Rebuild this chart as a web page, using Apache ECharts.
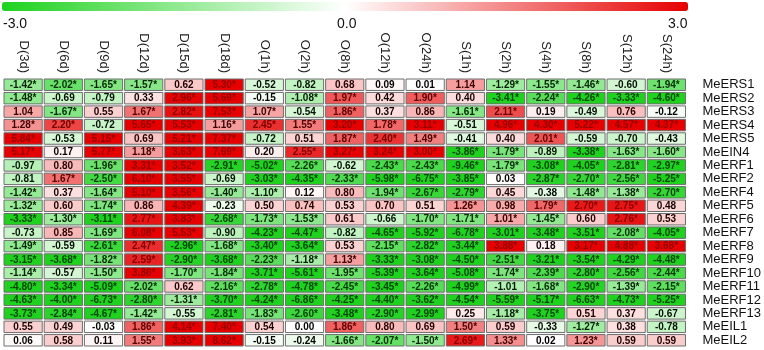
<!DOCTYPE html>
<html>
<head>
<meta charset="utf-8">
<script src="https://cdn.jsdelivr.net/npm/echarts@6/dist/echarts.min.js"></script>
<style>
    html, body { margin: 0; padding: 0; background: #fff; }
    #chart { width: 764px; height: 350px; }
</style>
</head>
<body>
<div id="chart"></div>
<script>
// ====================== 列 / 行 ======================
var columns = ['D(3d)', 'D(6d)', 'D(9d)', 'D(12d)', 'D(15d)', 'D(18d)',
    'O(1h)', 'O(2h)', 'O(8h)', 'O(12h)', 'O(24h)',
    'S(1h)', 'S(2h)', 'S(4h)', 'S(8h)', 'S(12h)', 'S(24h)'];
var genes = ['MeERS1', 'MeERS2', 'MeERS3', 'MeERS4', 'MeERS5', 'MeEIN4',
    'MeERF1', 'MeERF2', 'MeERF4', 'MeERF5', 'MeERF6', 'MeERF7', 'MeERF8',
    'MeERF9', 'MeERF10', 'MeERF11', 'MeERF12', 'MeERF13', 'MeEIL1', 'MeEIL2'];
var scaleTicks = ['-3.0', '0.0', '3.0'];

// ====================== 每行数据 (* = 显著) ======================
var meERS1 = ['-1.42*', '-2.02*', '-1.65*', '-1.57*', '0.62', '5.30*', '-0.52', '-0.82', '0.68', '0.09', '0.01', '1.14', '-1.29*', '-1.55*', '-1.46*', '-0.60', '-1.94*'];
var meERS2 = ['-1.48*', '-0.69', '-0.79', '0.33', '2.96*', '5.69*', '-0.15', '-1.08*', '1.97*', '0.42', '1.90*', '0.40', '-3.41*', '-2.24*', '-4.26*', '-3.33*', '-4.60*'];
var meERS3 = ['1.04', '-1.67*', '0.55', '1.67*', '2.82*', '7.53*', '1.07*', '-0.54', '1.86*', '0.37', '0.86', '-1.61*', '2.11*', '0.19', '-0.49', '0.76', '-0.12'];
var meERS4 = ['1.28*', '2.20*', '-0.72', '5.65*', '5.53*', '1.16*', '2.45*', '1.55*', '3.20*', '1.78*', '3.11*', '-0.51', '4.96*', '4.30*', '5.22*', '4.57*', '4.37*'];
var meERS5 = ['5.84*', '-0.53', '5.15*', '0.69', '5.21*', '7.37*', '-0.72', '0.51', '1.87*', '2.40*', '1.49*', '-0.41', '0.40', '2.01*', '-0.59', '-0.70', '-0.43'];
var meEIN4 = ['5.17*', '0.17', '5.77*', '1.18*', '3.63*', '7.69*', '0.20', '2.55*', '3.27*', '3.24*', '3.00*', '-3.86*', '-1.79*', '-0.89', '-3.38*', '-1.63*', '-1.60*'];
var meERF1 = ['-0.97', '0.80', '-1.96*', '3.31*', '3.52*', '-2.91*', '-5.02*', '-2.26*', '-0.62', '-2.43*', '-2.43*', '-9.46*', '-1.79*', '-3.08*', '-4.05*', '-2.81*', '-2.97*'];
var meERF2 = ['-0.81', '1.67*', '-2.50*', '6.10*', '3.55*', '-0.69', '-3.03*', '-4.35*', '-2.33*', '-5.98*', '-6.75*', '-3.85*', '0.03', '-2.87*', '-2.70*', '-2.56*', '-5.25*'];
var meERF4 = ['-1.42*', '0.37', '-1.64*', '5.10*', '3.56*', '-1.40*', '-1.10*', '0.12', '0.80', '-1.94*', '-2.67*', '-2.79*', '0.45', '-0.38', '-1.48*', '-1.38*', '-2.70*'];
var meERF5 = ['-1.32*', '0.60', '-1.74*', '0.86', '4.39*', '-0.23', '0.50', '0.74', '0.53', '0.70', '0.51', '1.26*', '0.98', '1.79*', '2.70*', '2.75*', '0.48'];
var meERF6 = ['-3.33*', '-1.30*', '-3.11*', '2.77*', '3.83*', '-2.68*', '-1.73*', '-1.53*', '0.61', '-0.66', '-1.70*', '-1.71*', '1.01*', '-1.45*', '0.60', '2.76*', '0.53'];
var meERF7 = ['-0.73', '0.85', '-1.69*', '6.08*', '5.53*', '-0.90', '-4.23*', '-4.47*', '-0.82', '-4.65*', '-5.92*', '-6.78*', '-3.01*', '-3.48*', '-3.51*', '-2.08*', '-4.05*'];
var meERF8 = ['-1.49*', '-0.59', '-2.61*', '2.47*', '-2.96*', '-1.68*', '-3.40*', '-3.64*', '0.53', '-2.15*', '-2.82*', '-3.44*', '3.88*', '0.18', '3.17*', '4.88*', '3.68*'];
var meERF9 = ['-3.15*', '-3.68*', '-1.82*', '2.59*', '-2.90*', '-3.68*', '-2.23*', '-1.18*', '1.13*', '-3.33*', '-3.08*', '-4.50*', '-2.51*', '-3.21*', '-3.54*', '-4.29*', '-4.48*'];
var meERF10 = ['-1.14*', '-0.57', '-1.50*', '3.86*', '-1.70*', '-1.84*', '-3.71*', '-5.61*', '-1.95*', '-5.39*', '-3.64*', '-5.08*', '-1.74*', '-2.39*', '-2.80*', '-2.56*', '-2.44*'];
var meERF11 = ['-4.80*', '-3.34*', '-5.09*', '-2.02*', '0.62', '-2.16*', '-2.78*', '-4.78*', '-2.45*', '-3.45*', '-2.26*', '-4.99*', '-1.01', '-1.68*', '-2.90*', '-1.39*', '-2.15*'];
var meERF12 = ['-4.63*', '-4.00*', '-6.73*', '-2.80*', '-1.31*', '-3.70*', '-4.24*', '-6.86*', '-4.25*', '-4.40*', '-3.62*', '-4.54*', '-5.59*', '-5.17*', '-6.63*', '-4.73*', '-5.25*'];
var meERF13 = ['-3.73*', '-2.84*', '-4.67*', '-1.42*', '-0.55', '-2.81*', '-1.83*', '-2.60*', '-3.48*', '-2.90*', '-2.99*', '0.25', '-1.18*', '-3.75*', '0.51', '0.37', '-0.67'];
var meEIL1 = ['0.55', '0.49', '-0.03', '1.86*', '4.14*', '7.40*', '0.54', '0.00', '1.86*', '0.80', '0.69', '1.50*', '0.59', '-0.33', '-1.27*', '0.38', '-0.78'];
var meEIL2 = ['0.06', '0.58', '0.11', '1.55*', '3.93*', '8.62*', '-0.15', '-0.24', '-1.66*', '-2.07*', '-1.50*', '2.69*', '1.33*', '0.02', '1.23*', '0.59', '0.59'];

var rows = [meERS1, meERS2, meERS3, meERS4, meERS5, meEIN4, meERF1, meERF2, meERF4,
    meERF5, meERF6, meERF7, meERF8, meERF9, meERF10, meERF11, meERF12, meERF13, meEIL1, meEIL2];

// ====================== 组装 heatmap 数据 ======================
var data = [];
var labels = [];
for (var r = 0; r < rows.length; r++) {
    for (var c = 0; c < columns.length; c++) {
        data.push([c, r, parseFloat(rows[r][c])]);
        labels.push(rows[r][c]);
    }
}

// 文字颜色：深色块上用同色系的深色
function textColor(v) {
    var t = Math.min(Math.abs(v) / 3, 1);
    var base = v > 0 ? [150, 0, 0] : [10, 70, 10];
    return 'rgb(' + Math.round(base[0] * t) + ',' + Math.round(base[1] * t) + ',' + Math.round(base[2] * t) + ')';
}

var chart = echarts.init(document.getElementById('chart'));

var option = {
    backgroundColor: '#fff',
    animation: false,
    textStyle: {
        fontFamily: 'Liberation Sans, Arial, sans-serif'
    },
    grid: {
        left: 3,
        right: 77,
        top: 78,
        bottom: 3
    },
    xAxis: {
        type: 'category',
        data: columns,
        position: 'top',
        axisLine: { show: false },
        axisTick: { show: false },
        splitLine: { show: false },
        axisLabel: {
            interval: 0,
            rotate: 90,
            margin: 5,
            fontSize: 13,
            color: '#222'
        }
    },
    yAxis: {
        type: 'category',
        data: genes,
        inverse: true,
        position: 'right',
        axisLine: { show: false },
        axisTick: { show: false },
        splitLine: { show: false },
        axisLabel: {
            interval: 0,
            margin: 16,
            fontSize: 13,
            color: '#111'
        }
    },
    visualMap: {
        type: 'continuous',
        min: -3,
        max: 3,
        dimension: 2,
        orient: 'horizontal',
        left: 2,
        top: 2,
        padding: 0,
        itemWidth: 9,
        itemHeight: 686,
        calculable: false,
        text: null,
        showLabel: false,
        inRange: {
            color: ['#1ed21e', '#ffffff', '#e60000']
        }
    },
    graphic: [
        { type: 'text', left: 3, top: 17, style: { text: scaleTicks[0], font: '14px Liberation Sans', fill: '#111' } },
        { type: 'text', left: 337, top: 17, style: { text: scaleTicks[1], font: '14px Liberation Sans', fill: '#111' } },
        { type: 'text', left: 668, top: 17, style: { text: scaleTicks[2], font: '14px Liberation Sans', fill: '#111' } }
    ],
    series: [{
        type: 'custom',
        data: data,
        encode: { x: 0, y: 1 },
        renderItem: function (params, api) {
            var p = api.coord([api.value(0), api.value(1)]);
            var s = api.size([1, 1]);
            var v = api.value(2);
            return {
                type: 'group',
                children: [{
                    type: 'rect',
                    shape: {
                        x: p[0] - s[0] / 2 + 1,
                        y: p[1] - s[1] / 2 + 1,
                        width: s[0] - 2,
                        height: s[1] - 2
                    },
                    style: {
                        fill: api.visual('color'),
                        stroke: '#6e6e6e',
                        lineWidth: 1
                    }
                }, {
                    type: 'text',
                    style: {
                        text: labels[params.dataIndex],
                        x: p[0],
                        y: p[1] + 0.5,
                        align: 'center',
                        verticalAlign: 'middle',
                        font: 'bold 10px Liberation Sans',
                        fill: textColor(v)
                    }
                }]
            };
        }
    }]
};

chart.setOption(option);
</script>
</body>
</html>
